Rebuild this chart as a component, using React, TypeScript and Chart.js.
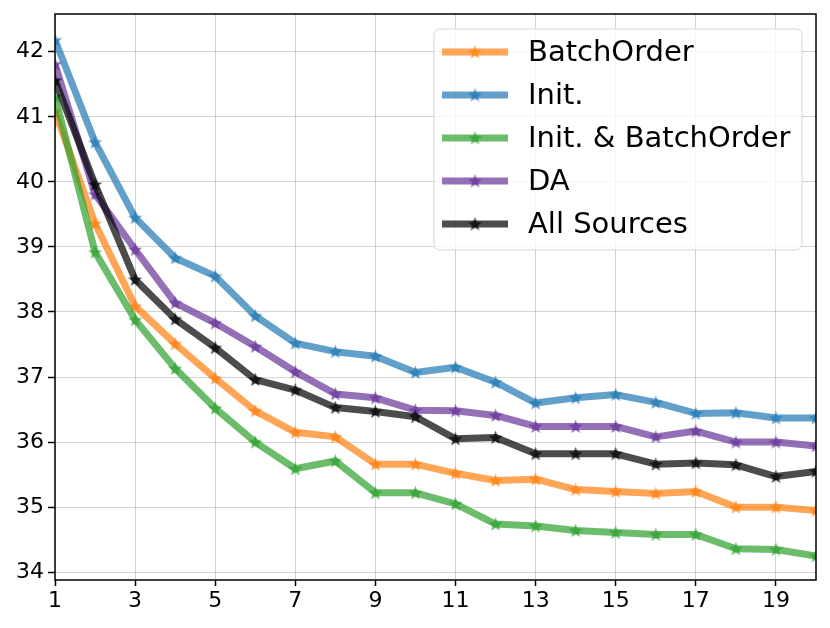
import { useEffect, useRef } from "react";
import { Chart, registerables } from "chart.js";
Chart.register(...registerables);

const steps = [1, 2, 3, 4, 5, 6, 7, 8, 9, 10, 11, 12, 13, 14, 15, 16, 17, 18, 19, 20];
const xTicks = [1, 3, 5, 7, 9, 11, 13, 15, 17, 19];
const yTicks = [34, 35, 36, 37, 38, 39, 40, 41, 42];

const batchOrder = [41.08, 39.36, 38.09, 37.51, 36.98, 36.48, 36.15, 36.08, 35.66, 35.66, 35.52, 35.41, 35.43, 35.27, 35.24, 35.21, 35.24, 35.0, 35.0, 34.95];
const init = [42.18, 40.61, 39.45, 38.83, 38.55, 37.94, 37.52, 37.39, 37.32, 37.07, 37.15, 36.92, 36.6, 36.68, 36.73, 36.61, 36.44, 36.45, 36.37, 36.37];
const initBatchOrder = [41.31, 38.92, 37.88, 37.13, 36.52, 36.0, 35.59, 35.71, 35.22, 35.22, 35.05, 34.74, 34.71, 34.64, 34.61, 34.58, 34.58, 34.36, 34.35, 34.25];
const da = [41.81, 39.81, 38.96, 38.14, 37.83, 37.47, 37.08, 36.74, 36.68, 36.49, 36.48, 36.41, 36.24, 36.24, 36.24, 36.08, 36.17, 36.0, 36.0, 35.94];
const allSources = [41.56, 39.96, 38.5, 37.89, 37.45, 36.96, 36.8, 36.53, 36.47, 36.39, 36.05, 36.07, 35.82, 35.82, 35.82, 35.66, 35.68, 35.65, 35.47, 35.55];

const seriesNames = ["BatchOrder", "Init.", "Init. & BatchOrder", "DA", "All Sources"];
const seriesValues = [batchOrder, init, initBatchOrder, da, allSources];
const seriesRGB = ["255,127,14", "31,119,180", "44,160,44", "102,51,153", "0,0,0"];

const ALPHA = 0.7;
const FONT = "'DejaVu Sans', sans-serif";

function makeStar(rgb: string, r: number): HTMLCanvasElement {
  const c = document.createElement("canvas");
  const size = Math.ceil(2 * r + 2);
  c.width = size;
  c.height = size;
  const ctx = c.getContext("2d")!;
  const cx = size / 2;
  const cy = size / 2 + 0.5;
  const inner = r * 0.42;
  ctx.beginPath();
  for (let i = 0; i < 10; i++) {
    const rad = i % 2 === 0 ? r : inner;
    const a = -Math.PI / 2 + (i * Math.PI) / 5;
    const px = cx + rad * Math.cos(a);
    const py = cy + rad * Math.sin(a);
    if (i === 0) ctx.moveTo(px, py);
    else ctx.lineTo(px, py);
  }
  ctx.closePath();
  ctx.fillStyle = `rgba(${rgb},${ALPHA})`;
  ctx.fill();
  return c;
}

export default function App() {
  const ref = useRef<HTMLCanvasElement>(null);

  useEffect(() => {
    if (!ref.current) return;
    const stars = seriesRGB.map((c) => makeStar(c, 7.5));

    const framePlugin = {
      id: "frame",
      afterDatasetsDraw(chart: any) {
        const { ctx, chartArea } = chart;
        ctx.save();
        ctx.strokeStyle = "#000";
        ctx.lineWidth = 1.5;
        ctx.strokeRect(chartArea.left, chartArea.top, chartArea.right - chartArea.left, chartArea.bottom - chartArea.top);
        ctx.restore();
      },
    };

    const legendPlugin = {
      id: "mplLegend",
      afterDraw(chart: any) {
        const { ctx, chartArea } = chart;
        const right = chartArea.right - 14;
        const top = chartArea.top + 15;
        const w = 368;
        const h = 221;
        const left = right - w;
        ctx.save();
        ctx.beginPath();
        ctx.roundRect(left, top, w, h, 6);
        ctx.fillStyle = "rgba(255,255,255,0.8)";
        ctx.fill();
        ctx.strokeStyle = "rgba(204,204,204,0.8)";
        ctx.lineWidth = 1;
        ctx.stroke();
        ctx.font = `29px ${FONT}`;
        ctx.textBaseline = "middle";
        ctx.textAlign = "left";
        for (let i = 0; i < seriesNames.length; i++) {
          const cy = top + 23 + i * 43;
          const x0 = left + 8;
          const x1 = left + 74;
          ctx.beginPath();
          ctx.moveTo(x0, cy);
          ctx.lineTo(x1, cy);
          ctx.strokeStyle = `rgba(${seriesRGB[i]},${ALPHA})`;
          ctx.lineWidth = 7;
          ctx.lineCap = "butt";
          ctx.stroke();
          const s = stars[i];
          ctx.drawImage(s, (x0 + x1) / 2 - s.width / 2, cy - s.height / 2);
          ctx.fillStyle = "#000";
          ctx.fillText(seriesNames[i], left + 94, cy + 1);
        }
        ctx.restore();
      },
    };

    const chart = new Chart(ref.current, {
      type: "line",
      data: {
        datasets: seriesValues.map((vals, i) => ({
          label: seriesNames[i],
          data: vals.map((v, j) => ({ x: steps[j], y: v })),
          borderColor: `rgba(${seriesRGB[i]},${ALPHA})`,
          backgroundColor: `rgba(${seriesRGB[i]},${ALPHA})`,
          borderWidth: 7,
          borderJoinStyle: "round" as const,
          borderCapStyle: "butt" as const,
          tension: 0,
          pointStyle: stars[i] as any,
          pointRadius: 7,
          pointHoverRadius: 7,
          fill: false,
          order: seriesNames.length - 1 - i,
        })),
      },
      options: {
        animation: false,
        responsive: false,
        devicePixelRatio: 1,
        layout: { padding: { left: 0, right: 13, top: 12, bottom: 0 } },
        plugins: { legend: { display: false }, tooltip: { enabled: false } },
        scales: {
          x: {
            type: "linear",
            min: 1,
            max: 20,
            afterBuildTicks: (scale: any) => {
              scale.ticks = xTicks.map((v) => ({ value: v }));
            },
            afterFit: (scale: any) => {
              scale.height = 48;
              scale.paddingLeft = 0;
              scale.paddingRight = 0;
            },
            grid: {
              color: "rgba(176,176,176,0.55)",
              lineWidth: 1,
              tickColor: "#000",
              tickLength: 6,
              tickWidth: 1.5,
            } as any,
            border: { display: false },
            ticks: {
              font: { family: FONT, size: 22 },
              color: "#000",
              padding: 2,
              maxRotation: 0,
              autoSkip: false,
              callback: (v: any) => String(v),
            },
          },
          y: {
            type: "linear",
            min: 33.88,
            max: 42.58,
            afterBuildTicks: (scale: any) => {
              scale.ticks = yTicks.map((v) => ({ value: v }));
            },
            afterFit: (scale: any) => {
              scale.width = 55;
              scale.paddingTop = 0;
              scale.paddingBottom = 0;
            },
            grid: {
              color: "rgba(176,176,176,0.55)",
              lineWidth: 1,
              tickColor: "#000",
              tickLength: 7,
              tickWidth: 1.5,
            } as any,
            border: { display: false },
            ticks: {
              font: { family: FONT, size: 22 },
              color: "#000",
              padding: 4,
              autoSkip: false,
              callback: (v: any) => String(v),
            },
          },
        },
      },
      plugins: [framePlugin, legendPlugin],
    });

    return () => chart.destroy();
  }, []);

  return (
    <div style={{ position: "absolute", left: 0, top: 0, width: 830, height: 628, background: "#fff" }}>
      <canvas ref={ref} width={830} height={628} style={{ display: "block" }} />
    </div>
  );
}
